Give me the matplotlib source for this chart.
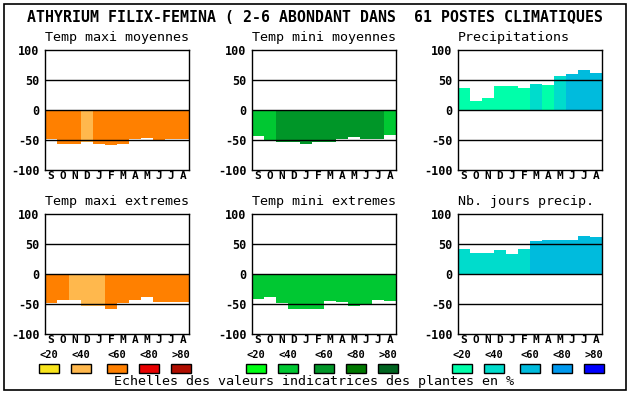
import numpy as np
import matplotlib
matplotlib.use("Agg")
import matplotlib.pyplot as plt
from matplotlib.patches import Rectangle

# ---- data ----
months = ["S", "O", "N", "D", "J", "F", "M", "A", "M", "J", "J", "A"]

titles = ["Temp maxi moyennes", "Temp mini moyennes", "Precipitations",
          "Temp maxi extremes", "Temp mini extremes", "Nb. jours precip."]

tmax_moy = [-48, -57, -57, -53, -56, -58, -56, -48, -46, -50, -48, -48]
tmax_moy_cls = [2, 2, 2, 1, 2, 2, 2, 2, 2, 2, 2, 2]

tmin_moy = [-43, -50, -54, -54, -56, -54, -53, -48, -45, -48, -48, -41]
tmin_moy_cls = [1, 1, 2, 2, 2, 2, 2, 2, 2, 2, 2, 1]

precip = [37, 15, 20, 40, 40, 37, 43, 42, 57, 60, 67, 62]
precip_cls = [0, 0, 0, 0, 0, 0, 1, 0, 1, 2, 2, 2]

tmax_ext = [-48, -44, -43, -54, -53, -58, -49, -43, -38, -46, -46, -46]
tmax_ext_cls = [2, 2, 1, 1, 1, 2, 2, 2, 2, 2, 2, 2]

tmin_ext = [-42, -38, -48, -58, -58, -58, -45, -47, -53, -50, -43, -45]
tmin_ext_cls = [1, 1, 1, 1, 1, 1, 1, 1, 1, 1, 1, 1]

jours = [42, 35, 35, 40, 33, 42, 55, 57, 57, 57, 63, 62]
jours_cls = [1, 1, 1, 1, 1, 1, 2, 2, 2, 2, 2, 2]

class_labels = ["<20", "<40", "<60", "<80", ">80"]
orange_pal = ["#f8e41c", "#ffb84d", "#ff8000", "#e80000", "#b00e00"]
green_pal = ["#00ff14", "#00c832", "#009628", "#007800", "#006420"]
blue_pal = ["#00ffaa", "#00dccc", "#00bbdd", "#0099ee", "#0000ff"]

W, H = 630, 394
fig = plt.figure(figsize=(W / 100, H / 100), dpi=100)
mono = "DejaVu Sans Mono"


def fx(x):
    return x / W


def fy(y):
    return 1 - y / H


# outer frame
fig.add_artist(Rectangle((fx(4), fy(390)), fx(622), 386 / H, transform=fig.transFigure,
                         fill=False, edgecolor="black", linewidth=1.2))

fig.text(fx(27), fy(18), "ATHYRIUM FILIX-FEMINA ( 2-6 ABONDANT DANS  61 POSTES CLIMATIQUES",
         ha="left", va="center", family=mono, fontweight="bold", fontsize=10.7)

cols = [45, 252, 458]
rows = [50, 214]
panels = [
    (tmax_moy, tmax_moy_cls, orange_pal),
    (tmin_moy, tmin_moy_cls, green_pal),
    (precip, precip_cls, blue_pal),
    (tmax_ext, tmax_ext_cls, orange_pal),
    (tmin_ext, tmin_ext_cls, green_pal),
    (jours, jours_cls, blue_pal),
]

for i, (vals, cls, pal) in enumerate(panels):
    r, c = divmod(i, 3)
    x0, y0 = cols[c], rows[r]
    ax = fig.add_axes([fx(x0), fy(y0 + 120), 144 / W, 120 / H])
    ax.bar(np.arange(12) + 0.5, vals, width=1.0, color=[pal[k] for k in cls],
           linewidth=0, zorder=1)
    for yl in (50, 0, -50):
        ax.axhline(yl, color="black", linewidth=1.0, zorder=3)
    ax.set_xlim(0, 12)
    ax.set_ylim(-100, 100)
    ax.set_yticks([-100, -50, 0, 50, 100])
    ax.set_yticklabels(["-100", "-50", "0", "50", "100"], family=mono,
                       fontweight="bold", fontsize=8.5)
    ax.set_xticks(np.arange(12) + 0.5)
    ax.set_xticklabels(months, family=mono, fontweight="bold", fontsize=8)
    ax.tick_params(axis="y", length=0, pad=4)
    ax.tick_params(axis="x", length=0, pad=1)
    for s in ax.spines.values():
        s.set_linewidth(1.0)
    fig.text(fx(x0), fy(y0 - 12), titles[i], ha="left", va="center",
             family=mono, fontsize=9.6)

# legend boxes under each column
box_off = [-6, 26, 62, 94, 126]
pals = [orange_pal, green_pal, blue_pal]
for c in range(3):
    x0 = cols[c]
    for k in range(5):
        bx = x0 + box_off[k]
        fig.add_artist(Rectangle((fx(bx), fy(373)), 20 / W, 9 / H, transform=fig.transFigure,
                                 facecolor=pals[c][k], edgecolor="black", linewidth=1.0))
        fig.text(fx(bx + 10), fy(355), class_labels[k], ha="center", va="center",
                 family=mono, fontweight="bold", fontsize=7.5)

fig.text(fx(314), fy(382), "Echelles des valeurs indicatrices des plantes en %",
         ha="center", va="center", family=mono, fontsize=9.6)

fig.savefig("out.png", dpi=100)
